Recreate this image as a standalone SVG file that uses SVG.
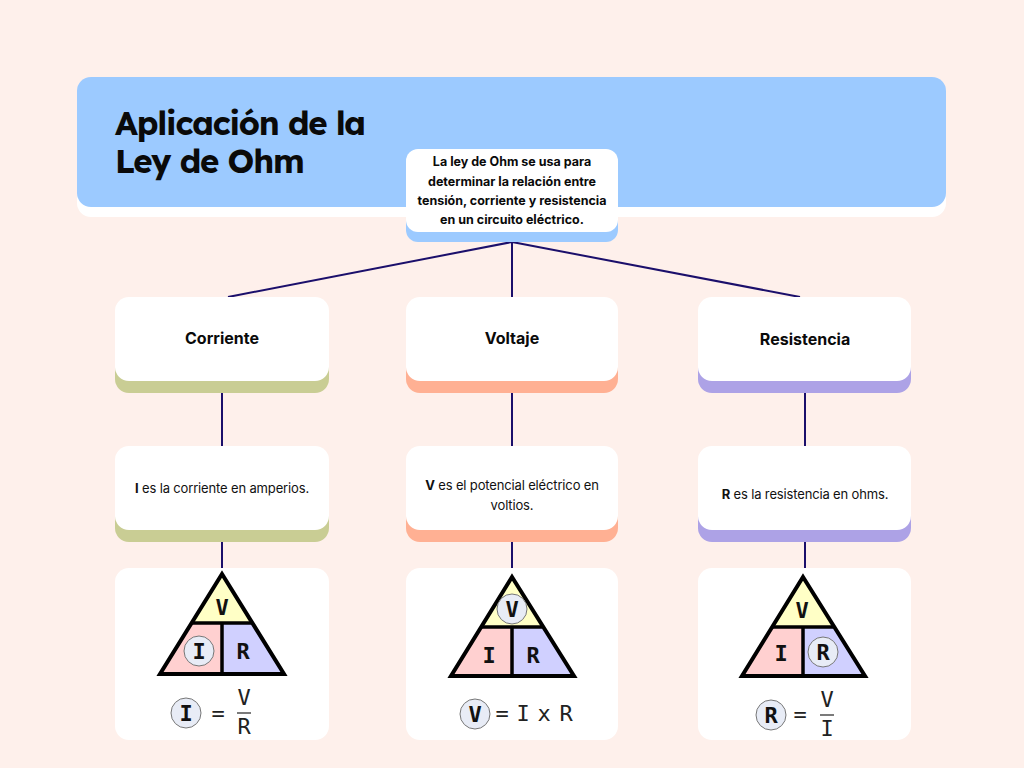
<svg xmlns="http://www.w3.org/2000/svg" width="1024" height="768" viewBox="0 0 1024 768">
  <style>
    .card { fill: #ffffff; }
    .conn { stroke: #1b0f6b; stroke-width: 2; fill: none; }
    .title { font-family: "Lexend", "Inter", "Lato", sans-serif; font-weight: 700; font-size: 33px; fill: #0a0a0a; letter-spacing: -1.2px; }
    .desc { font-family: "Inter", "Lato", sans-serif; font-weight: 700; font-size: 12.5px; fill: #0a0a0a; text-anchor: middle; }
    .head { font-family: "Inter", "Lato", sans-serif; font-weight: 700; font-size: 16px; fill: #0a0a0a; text-anchor: middle; }
    .body { font-family: "Inter", "Lato", sans-serif; font-weight: 400; font-size: 13px; fill: #111; text-anchor: middle; letter-spacing: -0.15px; }
    .tri { stroke: #000; stroke-width: 4; stroke-linejoin: miter; }
    .tline { stroke: #000; stroke-width: 3.5; }
    .sym { font-family: "DejaVu Sans Mono", monospace; font-weight: 700; font-size: 22px; fill: #111; text-anchor: middle; }
    .fsym { font-family: "DejaVu Sans Mono", monospace; font-weight: 400; font-size: 22px; fill: #222; text-anchor: middle; }
    .mark { fill: #e8ecf6; stroke: #777; stroke-width: 1; }
  </style>

  <rect width="1024" height="768" fill="#fef0eb"/>

  <!-- title banner -->
  <g id="title">
    <rect x="77" y="87" width="869" height="130" rx="14" fill="#ffffff"/>
    <rect x="77" y="77" width="869" height="130" rx="14" fill="#9ccaff"/>
    <text class="title" x="115" y="135">Aplicación de la</text>
    <text class="title" x="115" y="173">Ley de Ohm</text>
  </g>

  <!-- connectors -->
  <g id="connectors">
    <line class="conn" x1="512" y1="242" x2="228" y2="297"/>
    <line class="conn" x1="512" y1="242" x2="512" y2="297"/>
    <line class="conn" x1="512" y1="242" x2="800" y2="297"/>
    <line class="conn" x1="222" y1="393" x2="222" y2="446"/>
    <line class="conn" x1="512" y1="393" x2="512" y2="446"/>
    <line class="conn" x1="805" y1="393" x2="805" y2="446"/>
    <line class="conn" x1="222" y1="542" x2="222" y2="568"/>
    <line class="conn" x1="512" y1="542" x2="512" y2="568"/>
    <line class="conn" x1="805" y1="542" x2="805" y2="568"/>
  </g>

  <!-- description -->
  <g id="definition">
    <rect x="406" y="159" width="212" height="83" rx="12" fill="#9ccaff"/>
    <rect class="card" x="406" y="149" width="212" height="83" rx="12"/>
    <text class="desc" x="512" y="166">La ley de Ohm se usa para</text>
    <text class="desc" x="512" y="186">determinar la relación entre</text>
    <text class="desc" x="512" y="205">tensión, corriente y resistencia</text>
    <text class="desc" x="512" y="224">en un circuito eléctrico.</text>
  </g>

  <!-- category headers -->
  <g id="corriente">
    <rect x="115" y="309" width="214" height="84" rx="14" fill="#c9cd94"/>
    <rect class="card" x="115" y="297" width="214" height="84" rx="14"/>
    <text class="head" x="222" y="344">Corriente</text>
  </g>
  <g id="voltaje">
    <rect x="406" y="309" width="212" height="84" rx="14" fill="#ffb093"/>
    <rect class="card" x="406" y="297" width="212" height="84" rx="14"/>
    <text class="head" x="512" y="344">Voltaje</text>
  </g>
  <g id="resistencia">
    <rect x="698" y="309" width="213" height="84" rx="14" fill="#ada2e6"/>
    <rect class="card" x="698" y="297" width="213" height="84" rx="14"/>
    <text class="head" x="805" y="345">Resistencia</text>
  </g>

  <!-- definitions of each quantity -->
  <g id="corriente-def">
    <rect x="115" y="458" width="214" height="84" rx="14" fill="#c9cd94"/>
    <rect class="card" x="115" y="446" width="214" height="84" rx="14"/>
    <text class="body" x="222" y="493"><tspan font-weight="700">I</tspan> es la corriente en amperios.</text>
  </g>
  <g id="voltaje-def">
    <rect x="406" y="458" width="212" height="84" rx="14" fill="#ffb093"/>
    <rect class="card" x="406" y="446" width="212" height="84" rx="14"/>
    <text class="body" x="512" y="490"><tspan font-weight="700">V</tspan> es el potencial eléctrico en</text>
    <text class="body" x="512" y="510">voltios.</text>
  </g>
  <g id="resistencia-def">
    <rect x="698" y="458" width="213" height="84" rx="14" fill="#ada2e6"/>
    <rect class="card" x="698" y="446" width="213" height="84" rx="14"/>
    <text class="body" x="805" y="499"><tspan font-weight="700">R</tspan> es la resistencia en ohms.</text>
  </g>

  <!-- Ohm triangle: solve for I -->
  <g id="formula-i">
    <rect class="card" x="115" y="568" width="214" height="172" rx="14"/>
    <polygon points="222,574 252,623 192,623" fill="#ffffc6"/>
    <polygon points="192,623 222,623 222,674 160,674" fill="#ffd0d0"/>
    <polygon points="222,623 252,623 284,674 222,674" fill="#d0d0ff"/>
    <polygon class="tri" points="222,574 284,674 160,674" fill="none"/>
    <line class="tline" x1="192" y1="623" x2="252" y2="623"/>
    <line class="tline" x1="222" y1="623" x2="222" y2="674"/>
    <text class="sym" x="222" y="615">V</text>
    <circle class="mark" cx="199" cy="651" r="15"/>
    <text class="sym" x="199" y="659">I</text>
    <text class="sym" x="243" y="659">R</text>
    <circle class="mark" cx="186" cy="713" r="15"/>
    <text class="sym" x="186" y="721">I</text>
    <text class="fsym" x="218" y="721">=</text>
    <text class="fsym" x="244" y="705">V</text>
    <line x1="237" y1="713" x2="251" y2="713" stroke="#333" stroke-width="1.3"/>
    <text class="fsym" x="244" y="734">R</text>
  </g>

  <!-- Ohm triangle: solve for V -->
  <g id="formula-v">
    <rect class="card" x="406" y="568" width="212" height="172" rx="14"/>
    <polygon points="512,577 542,627 482,627" fill="#ffffc6"/>
    <polygon points="482,627 512,627 512,676 451,676" fill="#ffd0d0"/>
    <polygon points="512,627 542,627 574,676 512,676" fill="#d0d0ff"/>
    <polygon class="tri" points="512,577 574,676 451,676" fill="none"/>
    <line class="tline" x1="482" y1="627" x2="542" y2="627"/>
    <line class="tline" x1="512" y1="627" x2="512" y2="676"/>
    <circle class="mark" cx="512" cy="609" r="15"/>
    <text class="sym" x="512" y="617">V</text>
    <text class="sym" x="489" y="663">I</text>
    <text class="sym" x="533" y="663">R</text>
    <circle class="mark" cx="475" cy="714" r="15"/>
    <text class="sym" x="475" y="722">V</text>
    <text class="fsym" y="721"><tspan x="502">=</tspan><tspan x="523">I</tspan><tspan x="544">x</tspan><tspan x="566">R</tspan></text>
  </g>

  <!-- Ohm triangle: solve for R -->
  <g id="formula-r">
    <rect class="card" x="698" y="568" width="213" height="172" rx="14"/>
    <polygon points="803,577 833,627 773,627" fill="#ffffc6"/>
    <polygon points="773,627 803,627 803,676 742,676" fill="#ffd0d0"/>
    <polygon points="803,627 833,627 865,676 803,676" fill="#d0d0ff"/>
    <polygon class="tri" points="803,577 865,676 742,676" fill="none"/>
    <line class="tline" x1="773" y1="627" x2="833" y2="627"/>
    <line class="tline" x1="803" y1="627" x2="803" y2="676"/>
    <text class="sym" x="802" y="618">V</text>
    <text class="sym" x="781" y="661">I</text>
    <circle class="mark" cx="823" cy="652" r="15"/>
    <text class="sym" x="823" y="660">R</text>
    <circle class="mark" cx="771" cy="715" r="15"/>
    <text class="sym" x="771" y="723">R</text>
    <text class="fsym" x="800" y="722">=</text>
    <text class="fsym" x="827" y="707">V</text>
    <line x1="820" y1="715" x2="834" y2="715" stroke="#333" stroke-width="1.3"/>
    <text class="fsym" x="827" y="736">I</text>
  </g>
</svg>
